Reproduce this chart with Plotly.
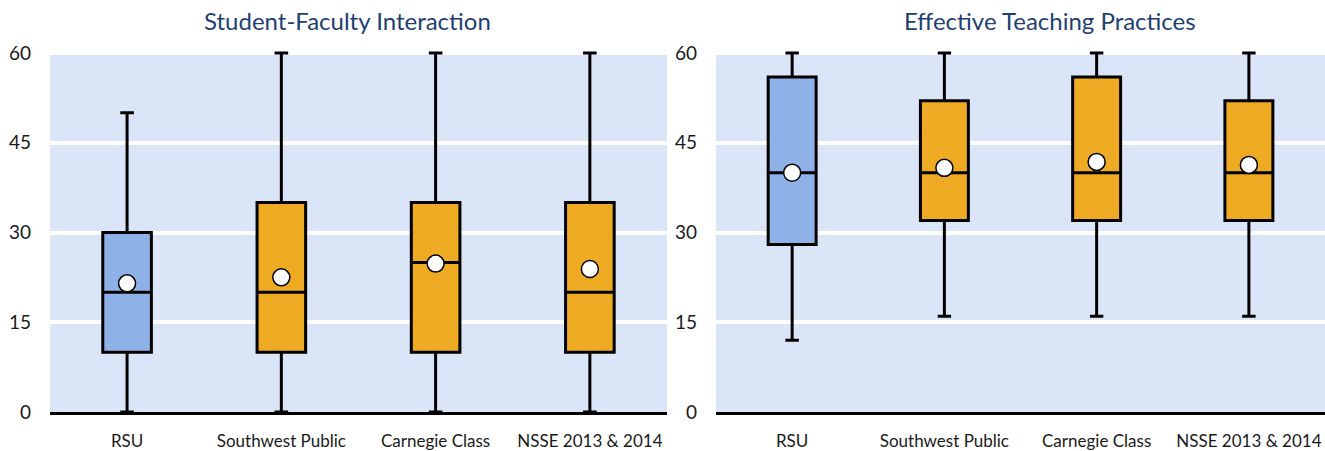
import plotly.graph_objects as go
from plotly.subplots import make_subplots

categories = ["RSU", "Southwest Public", "Carnegie Class", "NSSE 2013 & 2014"]
panel_titles = ["Student-Faculty Interaction", "Effective Teaching Practices"]

sfi_min = [0, 0, 0, 0]
sfi_q1 = [10, 10, 10, 10]
sfi_med = [20, 20, 25, 20]
sfi_q3 = [30, 35, 35, 35]
sfi_max = [50, 60, 60, 60]
sfi_mean = [21.5, 22.5, 24.8, 23.9]

etp_min = [12, 16, 16, 16]
etp_q1 = [28, 32, 32, 32]
etp_med = [40, 40, 40, 40]
etp_q3 = [56, 52, 56, 52]
etp_max = [60, 60, 60, 60]
etp_mean = [40.0, 40.8, 41.8, 41.3]

y_ticks = [0, 15, 30, 45, 60]

colors = ["#8EB2E8", "#EEAA22", "#EEAA22", "#EEAA22"]
BG = "#DAE5F7"
FONT = "Lato"

fig = make_subplots(rows=1, cols=2, horizontal_spacing=0.037)

panels = [
    (sfi_min, sfi_q1, sfi_med, sfi_q3, sfi_max, sfi_mean),
    (etp_min, etp_q1, etp_med, etp_q3, etp_max, etp_mean),
]

for col, (mn, q1, md, q3, mx, mean) in enumerate(panels, start=1):
    for i, cat in enumerate(categories):
        fig.add_trace(go.Box(
            x=[cat], q1=[q1[i]], median=[md[i]], q3=[q3[i]],
            lowerfence=[mn[i]], upperfence=[mx[i]],
            fillcolor=colors[i], line=dict(color="black", width=3),
            whiskerwidth=0.28, boxpoints=False, showlegend=False,
        ), row=1, col=col)
    fig.add_trace(go.Scatter(
        x=categories, y=mean, mode="markers",
        marker=dict(symbol="circle", size=17, color="white",
                    line=dict(color="black", width=1.5)),
        showlegend=False, cliponaxis=False,
    ), row=1, col=col)

fig.update_layout(
    width=1325, height=451,
    margin=dict(l=0, r=0, t=50, b=35),
    plot_bgcolor="white", paper_bgcolor="white",
    boxgap=0.685, boxgroupgap=0,
    font=dict(family=FONT, color="#262626"),
)

fig.update_xaxes(showline=True, linecolor="black", linewidth=3,
                 showgrid=False, ticks="", ticklabelstandoff=12,
                 tickfont=dict(size=17, family=FONT, color="#1A1A1A"))
fig.update_xaxes(domain=[0.0377, 0.5034], row=1, col=1)
fig.update_xaxes(domain=[0.5404, 1.0], row=1, col=2)
fig.update_yaxes(range=[0, 60.5], tickvals=y_ticks, showgrid=True,
                 gridcolor="white", gridwidth=4, zeroline=False,
                 showline=False, ticks="", ticklabelstandoff=18,
                 tickfont=dict(size=19, family=FONT, color="#1A1A1A"))

for xref, yref in [("x", "y"), ("x2", "y2")]:
    fig.add_shape(type="rect", xref=f"{xref} domain", yref=yref,
                  x0=0, x1=1, y0=0, y1=60, fillcolor=BG,
                  line=dict(width=0), layer="below")

title_x = [347 / 1325, 1050 / 1325]
for t, xc in zip(panel_titles, title_x):
    fig.add_annotation(text=t, x=xc, xref="paper", y=1 + 30 / 366, yref="paper",
                       xanchor="center", yanchor="middle", showarrow=False,
                       font=dict(size=24, family=FONT, color="#1F3F73"))

fig.write_html("out.html",
               config={"displayModeBar": False},
               post_script="document.body.style.margin='0px';")
